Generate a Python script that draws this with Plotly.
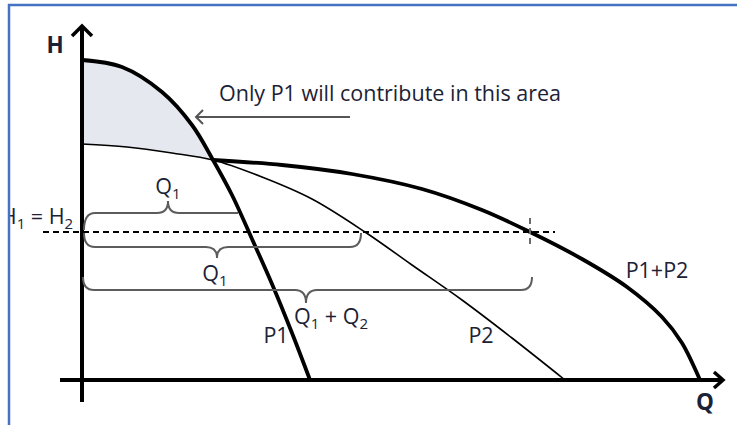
import plotly.graph_objects as go

# Pump curves: flow Q along x, head H along y (drawing units)
p1_q = [0, 40, 80, 110, 131, 150, 170, 190, 210, 228]
p1_h = [320, 313, 288, 255, 220, 185, 141, 96, 47, 0]

p2_q = [0, 45, 90, 131, 180, 230, 283, 330, 380, 430, 483]
p2_h = [236, 233, 227, 220, 203, 181, 148, 115, 80, 42, 0]

p12_q = [131, 200, 270, 340, 400, 448, 500, 545, 580, 600, 618]
p12_h = [220, 215, 206, 191, 170, 148, 121, 93, 63, 37, 0]

# Operating head H1 = H2 and the flows read at that head
h_op = 148
q_p1_upper = 156      # P1 flow at the upper brace level
q_p2 = 279            # P2 flow at h_op
q_sum = 450           # combined flow at h_op
q_cross = 131         # where P1 and P2 cross

# Axis extents
q_axis = [-22, 641]
h_axis = [-22, 354]

TEXT = "#1b2236"
FONT = "Open Sans"
BRACE = "#5c5c5c"

fig = go.Figure()

# Shaded region where only P1 contributes (between P1 and P2 left of the crossing)
n1 = p1_q.index(q_cross) + 1
n2 = p2_q.index(q_cross) + 1
fig.add_trace(go.Scatter(x=p2_q[:n2], y=p2_h[:n2], mode="lines",
                         line=dict(width=0, shape="spline"), hoverinfo="skip"))
fig.add_trace(go.Scatter(x=p1_q[:n1], y=p1_h[:n1], mode="lines", fill="tonexty",
                         fillcolor="#e6e8ef", line=dict(width=0, shape="spline"),
                         hoverinfo="skip"))

# Curves
fig.add_trace(go.Scatter(x=p2_q, y=p2_h, mode="lines",
                         line=dict(color="black", width=1.6, shape="spline")))
fig.add_trace(go.Scatter(x=p1_q, y=p1_h, mode="lines",
                         line=dict(color="black", width=3.8, shape="spline")))
fig.add_trace(go.Scatter(x=p12_q, y=p12_h, mode="lines",
                         line=dict(color="black", width=3.8, shape="spline", smoothing=0.9)))

# Axes with open arrowheads
fig.add_trace(go.Scatter(x=[0, 0], y=h_axis, mode="lines",
                         line=dict(color="black", width=4)))
fig.add_trace(go.Scatter(x=q_axis, y=[0, 0], mode="lines",
                         line=dict(color="black", width=4)))
fig.add_trace(go.Scatter(x=[-10, 0, 10], y=[h_axis[1] - 10, h_axis[1], h_axis[1] - 10],
                         mode="lines", line=dict(color="black", width=3.5)))
fig.add_trace(go.Scatter(x=[q_axis[1] - 9, q_axis[1], q_axis[1] - 9], y=[8, 0, -8],
                         mode="lines", line=dict(color="black", width=3.5)))

# Operating-head dashed line and marker at the combined flow
fig.add_trace(go.Scatter(x=[-39, 473], y=[h_op, h_op], mode="lines",
                         line=dict(color="black", width=2, dash="6px,4px")))
fig.add_trace(go.Scatter(x=[q_sum - 2, q_sum - 2], y=[h_op + 14, h_op - 16], mode="lines",
                         line=dict(color="#6b6b6b", width=2, dash="6px,4px")))

# Callout arrow
fig.add_trace(go.Scatter(x=[268, 114], y=[263, 263], mode="lines",
                         line=dict(color="#555555", width=2)))
fig.add_trace(go.Scatter(x=[121, 114, 121], y=[270, 263, 256], mode="lines",
                         line=dict(color="#555555", width=2)))


def brace_path(q0, q1, h, curl, tip_q, tip, r=11, r2=11, right_curl=True):
    """Curly brace along level h; curl/tip are signed vertical offsets."""
    p = [f"M {q0},{h + curl}", f"Q {q0},{h} {q0 + r},{h}",
         f"L {tip_q - r2},{h}", f"Q {tip_q},{h} {tip_q},{h + tip}",
         f"Q {tip_q},{h} {tip_q + r2},{h}"]
    if right_curl:
        p += [f"L {q1 - r},{h}", f"Q {q1},{h} {q1},{h + curl}"]
    else:
        p.append(f"L {q1},{h}")
    return " ".join(p)


braces = [
    brace_path(2, q_p1_upper, h_op + 19, -17, 86, 12, right_curl=False),
    brace_path(2, q_p2, h_op - 15, 14, 135, -11),
    brace_path(1, q_sum, 90, 13, 224, -13),
]
for path in braces:
    fig.add_shape(type="path", path=path, xref="x", yref="y",
                  line=dict(color=BRACE, width=2))

# Text labels (clipped at the plot edge)
labels = [
    ("Q<sub>1</sub>", 86, 191),
    ("H<sub>1</sub> = H<sub>2</sub>", -45, 161),
    ("Q<sub>1</sub>", 133, 104),
    ("Q<sub>1</sub> + Q<sub>2</sub>", 249, 61),
    ("P1", 194, 42),
    ("P2", 399, 42),
    ("P1+P2", 575, 107),
    ("Only P1 will contribute in this area", 308, 284),
]
fig.add_trace(go.Scatter(x=[l[1] for l in labels], y=[l[2] for l in labels],
                         text=[l[0] for l in labels], mode="text",
                         textposition="middle center", cliponaxis=True,
                         textfont=dict(family=FONT, size=21.5, color=TEXT)))

# Axis titles
fig.add_trace(go.Scatter(x=[-27, 623], y=[333, -24], text=["<b>H</b>", "<b>Q</b>"],
                         mode="text", textposition="middle center",
                         textfont=dict(family=FONT, size=22.5, color=TEXT)))

# Frame lines along the top and left edges
blue = "#4472c4"
fig.add_shape(type="line", xref="paper", yref="paper",
              x0=8 / 737, x1=1, y0=1 - 5 / 425, y1=1 - 5 / 425,
              line=dict(color=blue, width=2.5))
fig.add_shape(type="line", xref="paper", yref="paper",
              x0=9 / 737, x1=9 / 737, y0=0, y1=1 - 4 / 425,
              line=dict(color=blue, width=2.5))

fig.update_layout(
    width=737, height=425,
    margin=dict(l=0, r=0, t=0, b=0),
    paper_bgcolor="white", plot_bgcolor="white",
    showlegend=False, hovermode=False,
    xaxis=dict(domain=[10 / 737, 1], range=[-72, 655], visible=False, fixedrange=True),
    yaxis=dict(domain=[0, 1], range=[-45, 380], visible=False, fixedrange=True),
)

fig.write_html("out.html")
